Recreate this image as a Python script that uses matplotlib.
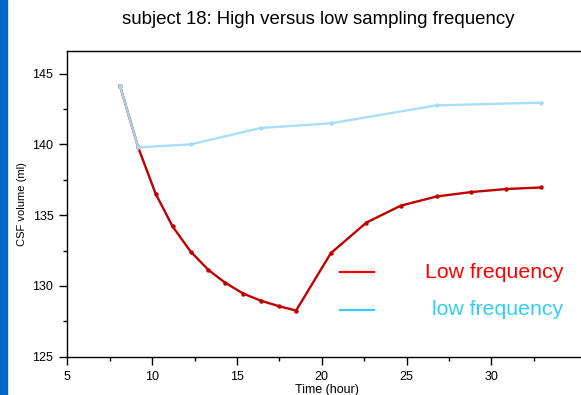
import matplotlib
matplotlib.use("Agg")
import matplotlib.pyplot as plt
from matplotlib.patches import Rectangle
import numpy as np

plt.rcParams['font.family'] = ['Liberation Sans', 'DejaVu Sans']

# low sampling (red) - hourly then every 2 hours
low_hours = [8.1, 9.18, 10.21, 11.21, 12.27, 13.31, 14.29, 15.37, 16.41, 17.47,
             18.49, 20.54, 22.64, 24.66, 26.77, 28.79, 30.89, 32.95]
low_csf = [144.16, 139.79, 136.51, 134.2, 132.43, 131.14, 130.24, 129.46, 128.96,
           128.57, 128.26, 132.32, 134.48, 135.67, 136.32, 136.63, 136.85, 136.96]

# sparse sampling (light blue)
sparse_hours = [8.1, 9.18, 12.27, 16.4, 20.54, 26.77, 32.95]
sparse_csf = [144.16, 139.79, 140.0, 141.16, 141.49, 142.76, 142.95]

legend_labels = ['Low frequency', 'low frequency']

fig = plt.figure(figsize=(5.81, 3.95), dpi=100)
fig.patches.append(Rectangle((0, 0), 7 / 581, 1, transform=fig.transFigure,
                             color='#0066CC', zorder=0))
ax = fig.add_axes([67.3 / 581, 1 - 356.7 / 395, 519 / 581, 305.7 / 395])

ax.plot(low_hours, low_csf, color='#C00000', lw=1.7, marker='o', ms=2.2, zorder=2)
ax.plot(sparse_hours, sparse_csf, color='#A6DCF7', lw=1.7, marker='o', ms=2.2,
        alpha=0.95, zorder=3)

ax.set_xlim(5, 35.6)
ax.set_ylim(125, 146.6)
# the right end of the axis is cut off in the original, so no 35 label
ax.set_xticks(np.arange(5, 31, 5))
ax.set_xticks(np.arange(7.5, 33, 5), minor=True)
ax.set_yticks(np.arange(125, 146, 5))
ax.set_yticks(np.arange(127.5, 146, 5), minor=True)
ax.tick_params(which='major', length=6, width=1, labelsize=9, pad=4)
ax.tick_params(which='minor', length=3, width=1)
for s in ax.spines.values():
    s.set_linewidth(1)

ax.set_xlabel('Time (hour)', fontsize=9, labelpad=1)
ax.set_ylabel('CSF volume (ml)', fontsize=8, labelpad=4)
fig.text(318 / 581, 1 - 20 / 395, 'subject 18: High versus low sampling frequency',
         ha='center', va='center', fontsize=13.4)

# hand-placed legend, text right aligned
ax.plot([0.526, 0.591], [0.277, 0.277], color='#FF0000', lw=1.6, transform=ax.transAxes)
ax.plot([0.526, 0.591], [0.153, 0.153], color='#33CCFF', lw=1.6, transform=ax.transAxes)
ax.text(0.955, 0.277, legend_labels[0], color='#FF0000', fontsize=15.3,
        ha='right', va='center', transform=ax.transAxes)
ax.text(0.955, 0.153, legend_labels[1], color='#33CCFF', fontsize=15.3,
        ha='right', va='center', transform=ax.transAxes)

fig.savefig('out.png', dpi=100)
